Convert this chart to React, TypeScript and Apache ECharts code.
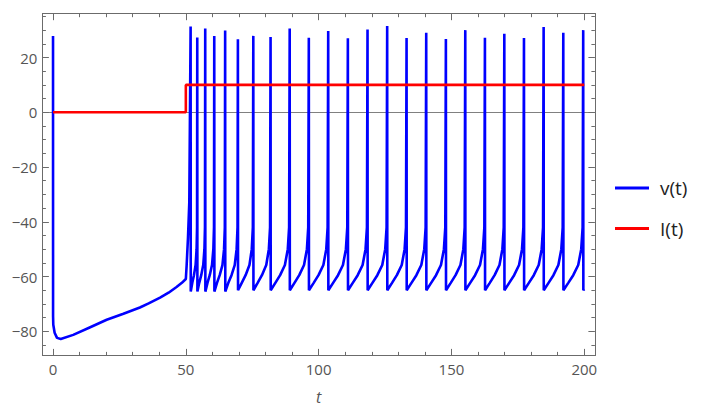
import React, { useEffect, useRef } from "react";
import * as echarts from "echarts";

// v(t): membrane potential
const vTimes = [
  0, 0.02, 0.1, 0.6, 1.5, 2.9, 7.6, 14, 20.2, 26.5, 32.7, 36, 40.3, 43.5, 46.5, 48.5, 50, 50.3, 50.8, 51.3, 51.8,
  51.85, 52.43, 53.05, 53.68, 54.05, 54.22, 54.3,
  54.35, 55.05, 55.8, 56.55, 57.0, 57.2, 57.3,
  57.35, 58.15, 59.0, 59.85, 60.36, 60.6, 60.7,
  60.75, 61.73, 62.75, 63.78, 64.39, 64.68, 64.8,
  64.85, 66.0, 67.2, 68.4, 69.12, 69.46, 69.6,
  69.65, 71.05, 72.5, 73.95, 74.82, 75.23, 75.4,
  75.45, 77.03, 78.65, 80.28, 81.25, 81.71, 81.9,
  81.95, 83.7, 85.5, 87.3, 88.38, 88.88, 89.1,
  89.15, 90.9, 92.7, 94.5, 95.58, 96.08, 96.3,
  96.35, 98.13, 99.95, 101.78, 102.87, 103.38, 103.6,
  103.65, 105.45, 107.3, 109.15, 110.26, 110.78, 111.0,
  111.05, 112.85, 114.7, 116.55, 117.66, 118.18, 118.4,
  118.45, 120.25, 122.1, 123.95, 125.06, 125.58, 125.8,
  125.85, 127.63, 129.45, 131.28, 132.37, 132.88, 133.1,
  133.15, 134.95, 136.8, 138.65, 139.76, 140.28, 140.5,
  140.55, 142.35, 144.2, 146.05, 147.16, 147.68, 147.9,
  147.95, 149.73, 151.55, 153.38, 154.47, 154.98, 155.2,
  155.25, 157.05, 158.9, 160.75, 161.86, 162.38, 162.6,
  162.65, 164.43, 166.25, 168.08, 169.17, 169.68, 169.9,
  169.95, 171.75, 173.6, 175.45, 176.56, 177.08, 177.3,
  177.35, 179.15, 181.0, 182.85, 183.96, 184.48, 184.7,
  184.75, 186.55, 188.4, 190.25, 191.36, 191.88, 192.1,
  192.15, 193.98, 195.85, 197.73, 198.85, 199.38, 199.6,
  199.65, 200,
];
const vValues = [
  27.9, -74.6, -77.6, -80.5, -82.4, -82.8, -81.3, -78.5, -75.8, -73.6, -71.3, -69.8, -67.7, -65.9, -63.8, -62.3, -60.9, -56, -46, -33, 31.3,
  -65.5, -62.3, -59.5, -55.8, -50, -42, 27.3,
  -65.5, -62.3, -59.5, -55.8, -50, -42, 30.6,
  -65.5, -62.3, -59.5, -55.8, -50, -42, 27.9,
  -65.5, -62.3, -59.5, -55.8, -50, -42, 29.9,
  -65.5, -62.3, -59.5, -55.8, -50, -42, 26.7,
  -65, -62.3, -59.5, -55.8, -50, -42, 27.9,
  -65, -62.3, -59.5, -55.8, -50, -42, 27.5,
  -65, -62.3, -59.5, -55.8, -50, -42, 30.6,
  -65, -62.3, -59.5, -55.8, -50, -42, 27.2,
  -65, -62.3, -59.5, -55.8, -50, -42, 29.7,
  -65, -62.3, -59.5, -55.8, -50, -42, 27.0,
  -65, -62.3, -59.5, -55.8, -50, -42, 30.2,
  -65, -62.3, -59.5, -55.8, -50, -42, 31.5,
  -65, -62.3, -59.5, -55.8, -50, -42, 27.1,
  -65, -62.3, -59.5, -55.8, -50, -42, 29.0,
  -65, -62.3, -59.5, -55.8, -50, -42, 26.8,
  -65, -62.3, -59.5, -55.8, -50, -42, 30.0,
  -65, -62.3, -59.5, -55.8, -50, -42, 27.2,
  -65, -62.3, -59.5, -55.8, -50, -42, 28.7,
  -65, -62.3, -59.5, -55.8, -50, -42, 27.1,
  -65, -62.3, -59.5, -55.8, -50, -42, 31.1,
  -65, -62.3, -59.5, -55.8, -50, -42, 29.0,
  -65, -62.3, -59.5, -55.8, -50, -42, 30.0,
  -65, -64.6,
];

// I(t): input current step
const iTimes = [0, 50, 50, 200];
const iValues = [0, 0, 10, 10];

// ticks
const xMajorTicks = [0, 50, 100, 150, 200];
const xMinorTicks = [10, 20, 30, 40, 60, 70, 80, 90, 110, 120, 130, 140, 160, 170, 180, 190];
const yMajorTicks = [-80, -60, -40, -20, 0, 20];
const yMinorTicks = [-85, -75, -70, -65, -55, -50, -45, -35, -30, -25, -15, -10, -5, 5, 10, 15, 25, 30, 35];

const X_MIN = -4;
const X_MAX = 204;
const Y_MIN = -88.8;
const Y_MAX = 36;

const FRAME = "#6b6b6b";
const LABEL = "#555555";
const FONT = "'Open Sans', 'Liberation Sans', sans-serif";

function fmt(v: number) {
  return v < 0 ? "\u2212" + Math.abs(v) : String(v);
}

function frameAxis(
  position: string,
  ticks: number[],
  len: number,
  isX: boolean,
  withLabels: boolean
): any {
  return {
    type: "value",
    position,
    min: isX ? X_MIN : Y_MIN,
    max: isX ? X_MAX : Y_MAX,
    splitLine: { show: false },
    axisLine: { show: true, onZero: false, lineStyle: { color: FRAME, width: 1 } },
    axisTick: {
      show: true,
      inside: true,
      length: len,
      customValues: ticks,
      lineStyle: { color: FRAME, width: 1 },
    },
    axisLabel: withLabels
      ? {
          show: true,
          customValues: ticks,
          formatter: fmt,
          color: LABEL,
          fontFamily: FONT,
          fontSize: 15,
          margin: isX ? 6 : 5,
        }
      : { show: false },
  };
}

export default function App() {
  const ref = useRef<HTMLDivElement>(null);

  useEffect(() => {
    if (!ref.current) return;
    const chart = echarts.init(ref.current, null, { renderer: "svg" });

    const xBottomMajor = frameAxis("bottom", xMajorTicks, 6.5, true, true);
    xBottomMajor.name = "t";
    xBottomMajor.nameLocation = "middle";
    xBottomMajor.nameGap = 34;
    xBottomMajor.nameTextStyle = {
      color: LABEL,
      fontFamily: FONT,
      fontSize: 16,
      fontStyle: "italic",
    };

    const zeroAxis = {
      type: "value",
      position: "bottom",
      min: X_MIN,
      max: X_MAX,
      splitLine: { show: false },
      axisLine: { show: true, onZero: true, lineStyle: { color: "#808080", width: 1 } },
      axisTick: { show: false },
      axisLabel: { show: false },
    };

    chart.setOption({
      animation: false,
      backgroundColor: "#ffffff",
      grid: { left: 42.4, top: 13.7, width: 552.5, height: 341.7, containLabel: false },
      xAxis: [
        xBottomMajor,
        frameAxis("bottom", xMinorTicks, 3.5, true, false),
        frameAxis("top", xMajorTicks, 6.5, true, false),
        frameAxis("top", xMinorTicks, 3.5, true, false),
        zeroAxis,
      ],
      yAxis: [
        frameAxis("left", yMajorTicks, 6.5, false, true),
        frameAxis("left", yMinorTicks, 3.5, false, false),
        frameAxis("right", yMajorTicks, 6.5, false, false),
        frameAxis("right", yMinorTicks, 3.5, false, false),
      ],
      legend: {
        orient: "vertical",
        left: 615,
        top: 178,
        padding: 0,
        itemGap: 20.5,
        itemWidth: 34,
        itemHeight: 3,
        icon: "rect",
        textStyle: {
          color: "#222222",
          fontFamily: FONT,
          fontSize: 19,
          lineHeight: 20,
          padding: [0, 0, 0, 6],
        },
        data: [{ name: "v(t)" }, { name: "I(t)" }],
      },
      series: [
        {
          name: "v(t)",
          type: "line",
          xAxisIndex: 0,
          yAxisIndex: 0,
          color: "#0000ff",
          showSymbol: false,
          symbol: "none",
          z: 3,
          lineStyle: { color: "#0000ff", width: 2.6 },
          data: vTimes.map((t, i) => [t, vValues[i]]),
        },
        {
          name: "I(t)",
          type: "line",
          xAxisIndex: 0,
          yAxisIndex: 0,
          color: "#ff0000",
          showSymbol: false,
          symbol: "none",
          z: 4,
          lineStyle: { color: "#ff0000", width: 2.6 },
          data: iTimes.map((t, i) => [t, iValues[i]]),
        },
      ],
    });

    return () => chart.dispose();
  }, []);

  return (
    <div
      ref={ref}
      style={{ position: "fixed", left: 0, top: 0, width: 709, height: 415 }}
    />
  );
}
